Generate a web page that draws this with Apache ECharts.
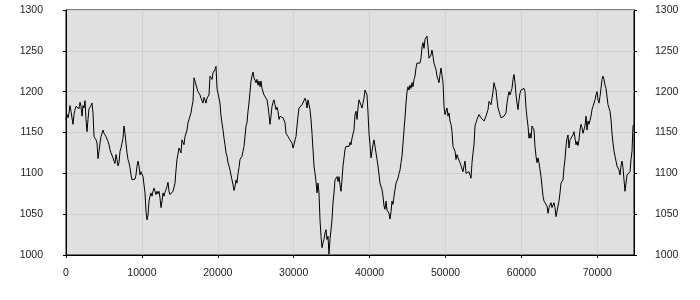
<!DOCTYPE html>
<html>
<head>
<meta charset="utf-8">
<script src="https://cdn.jsdelivr.net/npm/echarts@6/dist/echarts.min.js"></script>
<style>html,body{margin:0;padding:0;background:#fff}#c{width:700px;height:300px}</style>
</head>
<body>
<div id="c"></div>
<script>
// sample spacing on the x axis (data units)
const sampleStep = 131.75;
// tick values
const yTicks = [1000, 1050, 1100, 1150, 1200, 1250, 1300];
const xTicks = [0, 10000, 20000, 30000, 40000, 50000, 60000, 70000];

// series values, in consecutive parts
const part1 = [1166,1172,1168,1174,1183,1176,1174,1160,1172,1178,1182,1180,1184,1179,1187,1182,1170,1183,1180,1189,
1166,1151,1166,1179,1181,1183,1186,1174,1145,1147,1141,1137,1118,1127,1137,1145,1149,1153,1149,1151,
1145,1146,1139,1135,1129,1125,1125,1119,1115,1112,1123,1117,1109,1113,1127,1131,1137,1143,1158,1149,
1137,1125,1117,1113,1107,1098,1092,1090,1091,1093,1098,1109,1115,1109,1098,1102,1104,1096,1086,1076];
const part2 = [1053,1043,1049,1066,1072,1076,1072,1078,1082,1084,1074,1078,1075,1078,1070,1058,1066,1076,1072,1077,
1080,1084,1089,1078,1074,1076,1072,1078,1076,1088,1104,1117,1119,1131,1133,1125,1141,1143,1135,1145,
1147,1153,1162,1166,1168,1174,1182,1188,1217,1218,1217,1204,1200,1200,1196,1192,1194,1186,1193,1190,
1186,1192,1194,1196,1219,1219,1215,1223,1225,1227,1231,1204,1202,1204,1186,1170,1168,1153,1143,1135,
1125,1121];
const part3 = [1113,1109,1104,1102,1092,1086,1079,1084,1092,1088,1100,1107,1117,1119,1121,1127,1133,1145,1158,1162,
1176,1186,1200,1213,1219,1224,1217,1215,1211,1215,1208,1213,1206,1213,1204,1202,1196,1194,1196,1190,
1182,1172,1160,1170,1182,1187,1190,1184,1178,1181,1176,1166,1170,1168,1170,1168,1166,1162,1149,1151,
1145,1143,1141,1139,1137,1131,1135,1141,1145,1158,1170,1180,1181,1178,1184,1182,1186,1192,1188,1180,
1190,1188];
const part4 = [1178,1166,1149,1129,1109,1100,1090,1076,1088,1076,1043,1023,1009,1015,1019,1027,1031,1019,1023,1001,
1019,1031,1043,1064,1076,1092,1094,1096,1090,1096,1086,1078,1092,1109,1119,1129,1133,1131,1134,1133,
1138,1135,1143,1145,1153,1172,1176,1166,1180,1190,1191,1188,1180,1186,1192,1202,1200,1196,1174,1149,
1135,1119,1127,1135,1141,1133,1125,1117,1109,1111,1088,1086,1080,1072,1060,1056,1066,1055,1053,1051,
1044,1053];
const part5 = [1066,1062,1072,1080,1088,1090,1094,1100,1104,1113,1121,1137,1153,1168,1186,1200,1206,1202,1208,1204,
1211,1206,1215,1219,1229,1235,1233,1237,1235,1241,1255,1260,1253,1264,1266,1268,1255,1241,1239,1245,
1251,1243,1235,1231,1227,1219,1217,1211,1221,1229,1227,1211,1182,1172,1174,1180,1170,1174,1164,1160,
1151,1133,1131,1127,1117,1123,1119,1117,1113,1115,1111,1102,1109,1115,1100,1102,1100,1102,1098,1094,
1113,1125];
const part6 = [1135,1158,1162,1166,1168,1172,1170,1168,1166,1168,1164,1166,1170,1170,1178,1188,1190,1184,1192,1200,
1211,1206,1202,1190,1180,1176,1172,1168,1170,1166,1170,1168,1174,1186,1194,1200,1196,1198,1204,1215,
1221,1211,1196,1186,1178,1190,1198,1202,1204,1200,1204,1200,1180,1168,1158,1143,1149,1143,1158,1158,
1153,1133,1121,1113,1119,1113,1115,1096,1084,1072,1066,1064,1064,1060,1051,1058,1060,1064,1058,1060,
1064,1058];
const part7 = [1047,1053,1060,1066,1076,1088,1086,1092,1107,1117,1133,1143,1147,1131,1141,1143,1141,1147,1151,1149,
1135,1139,1134,1141,1153,1160,1156,1149,1147,1158,1170,1153,1164,1160,1162,1170,1178,1182,1184,1190,
1196,1200,1190,1186,1194,1204,1215,1219,1215,1208,1204,1202,1184,1180,1176,1166,1149,1137,1127,1121,
1115,1109,1107,1104,1098,1109,1115,1107,1092,1078,1088,1098,1100,1098,1102,1117,1127,1158,1160];

const values = [].concat(part1, part2, part3, part4, part5, part6, part7);
const seriesData = values.map((v, i) => [i * sampleStep, v]);

const labelFont = { fontFamily: 'Liberation Sans', fontSize: 10.5, color: '#222', formatter: v => String(v) };

const chart = echarts.init(document.getElementById('c'), null, { renderer: 'canvas' });
chart.setOption({
  animation: false,
  backgroundColor: '#ffffff',
  grid: {
    left: 66, right: 66, top: 10, bottom: 45,
    show: true, backgroundColor: '#e0e0e0', borderColor: '#000', borderWidth: 1
  },
  xAxis: {
    type: 'value', min: xTicks[0], max: 'dataMax', interval: xTicks[1] - xTicks[0],
    axisLine: { show: true, lineStyle: { color: '#000', width: 1 } },
    axisTick: { show: true, length: 3, lineStyle: { color: '#000' } },
    axisLabel: Object.assign({ margin: 13, showMaxLabel: false }, labelFont),
    splitLine: { show: true, lineStyle: { color: '#d0d0d0', width: 1 } }
  },
  yAxis: [
    {
      type: 'value', position: 'left', min: yTicks[0], max: yTicks[yTicks.length - 1], interval: yTicks[1] - yTicks[0],
      axisLine: { show: true, lineStyle: { color: '#000', width: 1 } },
      axisTick: { show: true, length: 3, lineStyle: { color: '#000' } },
      axisLabel: Object.assign({ margin: 23 }, labelFont),
      splitLine: { show: true, lineStyle: { color: '#d0d0d0', width: 1 } }
    },
    {
      type: 'value', position: 'right', min: yTicks[0], max: yTicks[yTicks.length - 1], interval: yTicks[1] - yTicks[0],
      axisLine: { show: true, lineStyle: { color: '#000', width: 1 } },
      axisTick: { show: true, length: 3, lineStyle: { color: '#000' } },
      axisLabel: Object.assign({ margin: 21 }, labelFont),
      splitLine: { show: false }
    }
  ],
  series: [{
    type: 'line', data: seriesData, yAxisIndex: 0,
    showSymbol: false, symbol: 'none', sampling: null,
    lineStyle: { color: '#000', width: 1 }
  }]
});
</script>
</body>
</html>
